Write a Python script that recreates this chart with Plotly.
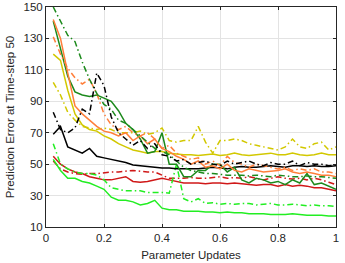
import plotly.graph_objects as go

x_updates = [0.025, 0.05, 0.075, 0.1, 0.125, 0.15, 0.175, 0.2, 0.225, 0.25,
             0.275, 0.3, 0.325, 0.35, 0.375, 0.4, 0.425, 0.45, 0.475, 0.5,
             0.525, 0.55, 0.575, 0.6, 0.625, 0.65, 0.675, 0.7, 0.725, 0.75,
             0.775, 0.8, 0.825, 0.85, 0.875, 0.9, 0.925, 0.95, 0.975, 1.0]

yellow_dd = [102, 94, 83, 78, 74, 73, 72, 73, 72, 70, 70, 70, 71, 69, 70, 73, 65, 64, 65, 65,
             74, 64, 57, 65, 65, 66, 65, 63, 62, 61, 60, 59, 61, 66, 61, 60, 63, 64, 59, 61]
yellow_s = [120, 116, 97, 82, 75, 72, 71, 68, 66, 63, 61, 59, 58, 57, 58, 58, 57, 56.5, 56, 56,
            55.5, 56, 56.5, 55.5, 56, 57, 56, 55.5, 56, 56.5, 57, 56, 56, 57, 56, 55.5, 56, 57, 56, 56]
dgreen_dd = [150, 141, 132, 128, 115, 104, 95, 88, 85, 78, 76, 72, 68, 64, 60, 58, 56, 52, 48, 46,
             45, 44, 44, 43.5, 43, 43, 43, 42.5, 43, 42.5, 42, 43, 42.5, 42, 42, 42.5, 42, 42, 41.5, 41]
dgreen_s = [141, 124, 106, 96, 94, 93, 94, 92, 90, 84, 76, 72, 66, 57, 58, 70, 50, 50, 42, 42,
            46, 46, 50, 50, 45, 48, 40, 38, 41, 40, 38, 39, 37, 40, 38, 44, 37, 38, 36, 34]
orange_dd = [131, 120, 111, 105, 101, 104, 95, 82, 75, 72, 74, 70, 68, 70, 66, 60, 62, 57, 55, 53,
             54, 50, 52, 49, 55, 51, 50, 48, 50, 49, 48, 47, 48, 46, 47, 46, 47, 45, 45, 44]
orange_s = [142, 130, 108, 87, 82, 78, 74, 71, 70, 68, 70, 65, 68, 63, 66, 60, 58, 55, 53, 50,
            52, 48, 49, 47, 50, 46, 45, 47, 46, 45, 45.5, 46, 47, 45, 44, 45, 44, 43, 43, 42]
black_dd = [83, 72, 70, 73, 85, 82, 108, 100, 80, 70, 66, 62, 65, 60, 63, 56, 55, 52, 53, 50,
            51, 52, 50, 49, 52, 50, 51, 52, 50, 49, 51, 50, 50, 52, 49, 51, 50, 50, 49, 49.5]
black_s = [69, 74, 61, 59, 57, 60, 55, 54, 53, 52, 51, 49.5, 49, 48.5, 48, 47.5, 47.5, 47, 47, 47,
           47, 47.5, 48, 47.5, 47, 48, 48.5, 48, 48, 48.5, 49, 48.5, 48, 49, 49, 48.5, 49, 48.5, 48.5, 49]
red_dd = [52, 47, 45, 44, 43.5, 44, 44, 44.5, 45, 45, 45.5, 46, 45.5, 45, 45, 43, 41, 41, 41, 41.5,
          41, 41, 41.5, 42, 41, 41.5, 41, 42, 41, 40, 41, 42, 41, 40.5, 41, 40, 41, 40, 38.5, 37]
red_s = [55, 50, 47, 45, 44, 42, 41, 40, 40, 41, 42, 39, 38.5, 39, 40, 41, 40, 39, 38, 38,
         38, 37.5, 38, 38, 37.5, 38, 37.5, 37, 36.5, 37, 37, 36, 37, 36, 36.5, 36, 35, 35, 34, 33]
lgreen_dd = [63, 50, 47, 45, 44, 44, 43, 40, 35, 34, 33, 33, 33, 32, 32, 32, 31.5, 50, 28, 26,
             28, 25, 25.5, 24.5, 25, 24.5, 25, 25, 24, 24.5, 25, 24, 24, 24.5, 24, 23.5, 24, 23.5, 23.5, 23]
lgreen_s = [53, 46, 41, 41, 39, 38, 36, 34, 29, 27, 27, 26, 24, 25, 27, 22, 21, 21, 20, 20,
            20, 19.5, 19.5, 19, 19.5, 19, 19, 18.5, 18.5, 18.5, 18, 18, 18, 18.5, 18, 17.5, 17.5, 17.5, 17, 17]

x_ticks = [0, 0.2, 0.4, 0.6, 0.8, 1]
y_ticks = [10, 30, 50, 70, 90, 110, 130, 150]

YELLOW = "#d2c800"
DGREEN = "#1c8a1c"
ORANGE = "#ff7f3a"
BLACK = "#000000"
RED = "#d01818"
LGREEN = "#22ee22"
DASHDOT = "6px,3px,1.5px,3px"
FONT = "Liberation Sans, Arial"
TXT = "#262626"

series = [
    (yellow_dd, YELLOW, DASHDOT),
    (yellow_s, YELLOW, "solid"),
    (red_dd, RED, DASHDOT),
    (red_s, RED, "solid"),
    (lgreen_dd, LGREEN, DASHDOT),
    (lgreen_s, LGREEN, "solid"),
    (black_s, BLACK, "solid"),
    (dgreen_s, DGREEN, "solid"),
    (orange_dd, ORANGE, DASHDOT),
    (orange_s, ORANGE, "solid"),
    (dgreen_dd, DGREEN, DASHDOT),
    (black_dd, BLACK, DASHDOT),
]

fig = go.Figure()
for vals, color, dash in series:
    fig.add_trace(go.Scatter(x=x_updates, y=vals, mode="lines",
                             line=dict(color=color, width=1.5, dash=dash),
                             showlegend=False, hoverinfo="skip"))

axis_common = dict(showline=True, linecolor=TXT, linewidth=1, mirror="ticks",
                   ticks="inside", ticklen=3, tickcolor=TXT, automargin=False,
                   ticklabeloverflow="allow",
                   showgrid=True, gridcolor="#e3e3e3", gridwidth=1, zeroline=False,
                   tickfont=dict(family=FONT, size=11.5, color=TXT))

fig.update_xaxes(range=[0, 1], tickvals=x_ticks, ticktext=[str(t) for t in x_ticks],
                 title=dict(text="Parameter Updates", standoff=8,
                            font=dict(family=FONT, size=11.5, color=TXT)),
                 **axis_common)
fig.update_yaxes(range=[10, 150], tickvals=y_ticks,
                 title=dict(text="Prediction Error at Time-step 50", standoff=6,
                            font=dict(family=FONT, size=11.5, color=TXT)),
                 **axis_common)

fig.update_layout(width=345, height=263, margin=dict(l=46, r=9, t=7, b=36),
                  plot_bgcolor="white", paper_bgcolor="white")

fig.write_html("out.html", config={"displayModeBar": False, "staticPlot": True},
               post_script="document.body.style.margin='0';document.body.style.padding='0';")
